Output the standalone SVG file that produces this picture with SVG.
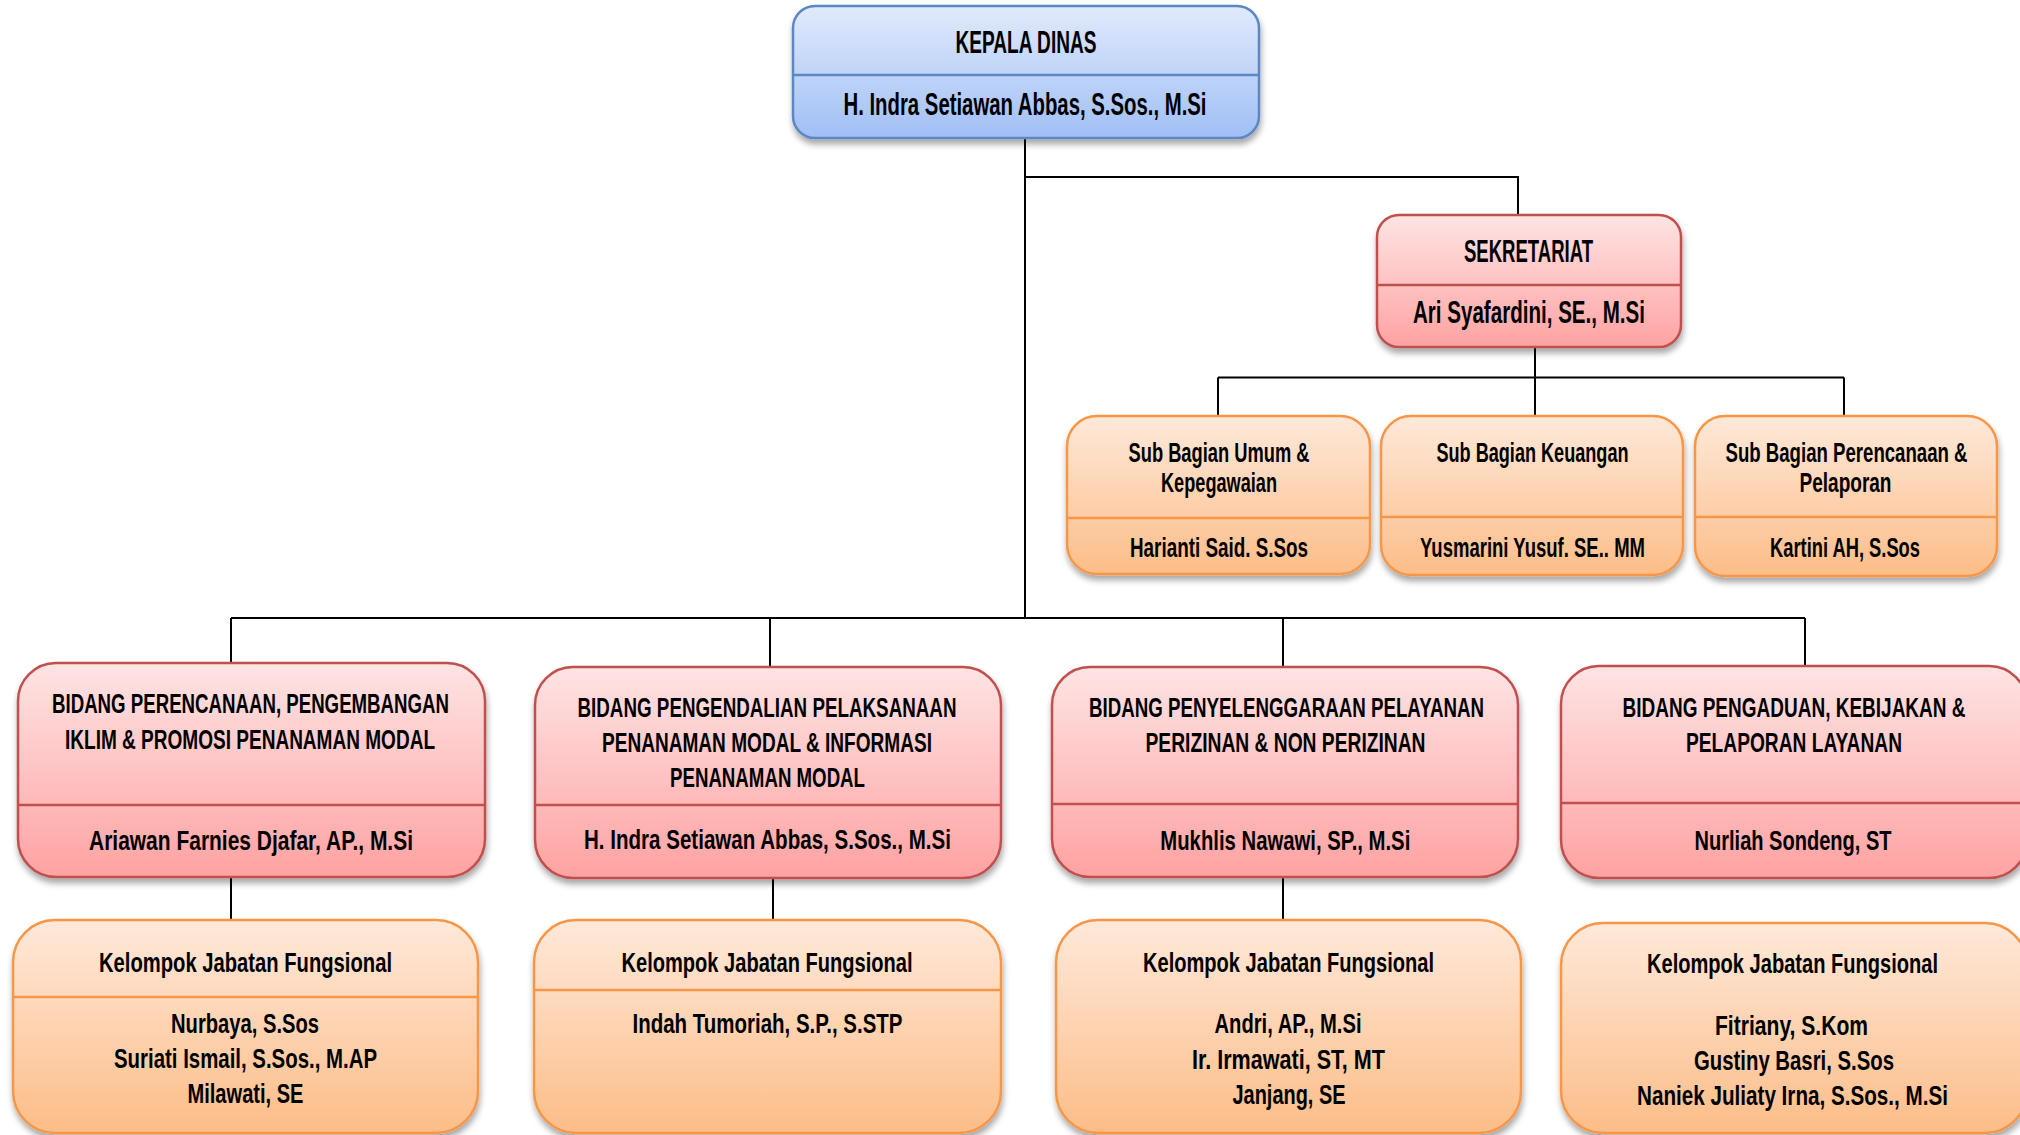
<svg xmlns="http://www.w3.org/2000/svg" width="2020" height="1135" viewBox="0 0 2020 1135">
<defs>
<linearGradient id="gBlue" x1="0" y1="0" x2="0" y2="1"><stop offset="0" stop-color="#e1eafc"/><stop offset="1" stop-color="#a0bff5"/></linearGradient>
<linearGradient id="gRed" x1="0" y1="0" x2="0" y2="1"><stop offset="0" stop-color="#fee4e4"/><stop offset="1" stop-color="#ffa2a2"/></linearGradient>
<linearGradient id="gOrange" x1="0" y1="0" x2="0" y2="1"><stop offset="0" stop-color="#fee9da"/><stop offset="1" stop-color="#fcbd88"/></linearGradient>
<filter id="sh" x="-10%" y="-10%" width="120%" height="130%"><feDropShadow dx="1" dy="5" stdDeviation="3" flood-color="#000" flood-opacity="0.35"/></filter>
<style>
.blue{fill:url(#gBlue);stroke:#5b87c2;stroke-width:2.5}
.red{fill:url(#gRed);stroke:#c0504d;stroke-width:2.5}
.org{fill:url(#gOrange);stroke:#f79646;stroke-width:2.5}
.dB{stroke:#5b87c2;stroke-width:2.5}
.dR{stroke:#c0504d;stroke-width:2.5}
.dO{stroke:#f79646;stroke-width:2.5}
text{font-family:"Liberation Sans",Arial,sans-serif;font-weight:bold;fill:#000;text-anchor:middle}
.t28{font-size:31px}
.t26{font-size:28px}
.t25{font-size:27px}
.conn{stroke:#000;stroke-width:2;fill:none}
</style>
</defs>
<rect width="2020" height="1135" fill="#fff"/>
<g id="connectors">
<path class="conn" d="M1025 138 V618 M1025 177 H1518 V215 M231 618 H1805 M231 618 V663 M770 618 V667 M1283 618 V667 M1805 618 V666 M1535 347 V377.5 M1218 377.5 H1844 M1218 377.5 V416 M1535 377.5 V416 M1844 377.5 V416 M231 877 V920 M773 878 V920 M1283 877 V920"/>
</g>
<g id="kepala-dinas">
<rect class="blue" x="793" y="6" width="466" height="132" rx="22" filter="url(#sh)"/>
<line class="dB" x1="794" y1="75" x2="1258" y2="75"/>
<text class="t28" x="1026" y="53" textLength="141" lengthAdjust="spacingAndGlyphs">KEPALA DINAS</text>
<text class="t28" x="1025" y="115" textLength="363" lengthAdjust="spacingAndGlyphs">H. Indra Setiawan Abbas, S.Sos., M.Si</text>
</g>
<g id="sekretariat">
<rect class="red" x="1377" y="215" width="304" height="132" rx="22" filter="url(#sh)"/>
<line class="dR" x1="1378" y1="285" x2="1680" y2="285"/>
<text class="t28" x="1528.5" y="262" textLength="129" lengthAdjust="spacingAndGlyphs">SEKRETARIAT</text>
<text class="t28" x="1529" y="323" textLength="232" lengthAdjust="spacingAndGlyphs">Ari Syafardini, SE., M.Si</text>
</g>
<g id="sub-umum">
<rect class="org" x="1067" y="416" width="303" height="158" rx="30" filter="url(#sh)"/>
<line class="dO" x1="1068" y1="518" x2="1369" y2="518"/>
<text class="t26" x="1219" y="462" textLength="181" lengthAdjust="spacingAndGlyphs">Sub Bagian Umum &amp;</text>
<text class="t26" x="1219" y="492" textLength="116" lengthAdjust="spacingAndGlyphs">Kepegawaian</text>
<text class="t26" x="1219" y="557" textLength="178" lengthAdjust="spacingAndGlyphs">Harianti Said. S.Sos</text>
</g>
<g id="sub-keuangan">
<rect class="org" x="1381" y="416" width="302" height="159" rx="30" filter="url(#sh)"/>
<line class="dO" x1="1382" y1="517" x2="1682" y2="517"/>
<text class="t26" x="1532.5" y="462" textLength="192" lengthAdjust="spacingAndGlyphs">Sub Bagian Keuangan</text>
<text class="t26" x="1532.5" y="557" textLength="225" lengthAdjust="spacingAndGlyphs">Yusmarini Yusuf. SE.. MM</text>
</g>
<g id="sub-perencanaan">
<rect class="org" x="1695" y="416" width="302" height="160" rx="30" filter="url(#sh)"/>
<line class="dO" x1="1696" y1="517" x2="1996" y2="517"/>
<text class="t26" x="1846.5" y="462" textLength="242" lengthAdjust="spacingAndGlyphs">Sub Bagian Perencanaan &amp;</text>
<text class="t26" x="1845.5" y="492" textLength="92" lengthAdjust="spacingAndGlyphs">Pelaporan</text>
<text class="t26" x="1845" y="557" textLength="150" lengthAdjust="spacingAndGlyphs">Kartini AH, S.Sos</text>
</g>
<g id="bidang-perencanaan">
<rect class="red" x="18" y="663" width="467" height="214" rx="38" filter="url(#sh)"/>
<line class="dR" x1="19" y1="805" x2="484" y2="805"/>
<text class="t25" x="250.5" y="713" textLength="397" lengthAdjust="spacingAndGlyphs">BIDANG PERENCANAAN, PENGEMBANGAN</text>
<text class="t25" x="250" y="749" textLength="370" lengthAdjust="spacingAndGlyphs">IKLIM &amp; PROMOSI PENANAMAN MODAL</text>
<text class="t25" x="251" y="850" textLength="324" lengthAdjust="spacingAndGlyphs">Ariawan Farnies Djafar, AP., M.Si</text>
</g>
<g id="bidang-pengendalian">
<rect class="red" x="535" y="667" width="466" height="211" rx="38" filter="url(#sh)"/>
<line class="dR" x1="536" y1="805" x2="1000" y2="805"/>
<text class="t25" x="767" y="717" textLength="379" lengthAdjust="spacingAndGlyphs">BIDANG PENGENDALIAN PELAKSANAAN</text>
<text class="t25" x="767" y="752" textLength="330" lengthAdjust="spacingAndGlyphs">PENANAMAN MODAL &amp; INFORMASI</text>
<text class="t25" x="767.5" y="787" textLength="195" lengthAdjust="spacingAndGlyphs">PENANAMAN MODAL</text>
<text class="t25" x="767.5" y="849" textLength="367" lengthAdjust="spacingAndGlyphs">H. Indra Setiawan Abbas, S.Sos., M.Si</text>
</g>
<g id="bidang-penyelenggaraan">
<rect class="red" x="1052" y="667" width="466" height="210" rx="38" filter="url(#sh)"/>
<line class="dR" x1="1053" y1="804" x2="1517" y2="804"/>
<text class="t25" x="1286.5" y="717" textLength="395" lengthAdjust="spacingAndGlyphs">BIDANG PENYELENGGARAAN PELAYANAN</text>
<text class="t25" x="1285.5" y="752" textLength="280" lengthAdjust="spacingAndGlyphs">PERIZINAN &amp; NON PERIZINAN</text>
<text class="t25" x="1285.3" y="850" textLength="250" lengthAdjust="spacingAndGlyphs">Mukhlis Nawawi, SP., M.Si</text>
</g>
<g id="bidang-pengaduan">
<rect class="red" x="1561" y="666" width="466" height="212" rx="38" filter="url(#sh)"/>
<line class="dR" x1="1562" y1="803" x2="2026" y2="803"/>
<text class="t25" x="1794" y="717" textLength="343" lengthAdjust="spacingAndGlyphs">BIDANG PENGADUAN, KEBIJAKAN &amp;</text>
<text class="t25" x="1794" y="752" textLength="216" lengthAdjust="spacingAndGlyphs">PELAPORAN LAYANAN</text>
<text class="t25" x="1793" y="850" textLength="197" lengthAdjust="spacingAndGlyphs">Nurliah Sondeng, ST</text>
</g>
<g id="kelompok-1">
<rect class="org" x="13" y="920" width="465" height="213" rx="42" filter="url(#sh)"/>
<line class="dO" x1="14" y1="997" x2="477" y2="997"/>
<text class="t25" x="245.5" y="972" textLength="293" lengthAdjust="spacingAndGlyphs">Kelompok Jabatan Fungsional</text>
<text class="t25" x="245" y="1033" textLength="148" lengthAdjust="spacingAndGlyphs">Nurbaya, S.Sos</text>
<text class="t25" x="245.5" y="1068" textLength="263" lengthAdjust="spacingAndGlyphs">Suriati Ismail, S.Sos., M.AP</text>
<text class="t25" x="245.5" y="1103" textLength="116" lengthAdjust="spacingAndGlyphs">Milawati, SE</text>
</g>
<g id="kelompok-2">
<rect class="org" x="534" y="920" width="467" height="213" rx="42" filter="url(#sh)"/>
<line class="dO" x1="535" y1="990" x2="1000" y2="990"/>
<text class="t25" x="767" y="972" textLength="291" lengthAdjust="spacingAndGlyphs">Kelompok Jabatan Fungsional</text>
<text class="t25" x="767.5" y="1033" textLength="270" lengthAdjust="spacingAndGlyphs">Indah Tumoriah, S.P., S.STP</text>
</g>
<g id="kelompok-3">
<rect class="org" x="1056" y="920" width="465" height="213" rx="42" filter="url(#sh)"/>
<text class="t25" x="1288.5" y="972" textLength="291" lengthAdjust="spacingAndGlyphs">Kelompok Jabatan Fungsional</text>
<text class="t25" x="1288" y="1033" textLength="147" lengthAdjust="spacingAndGlyphs">Andri, AP., M.Si</text>
<text class="t25" x="1288.5" y="1069" textLength="193" lengthAdjust="spacingAndGlyphs">Ir. Irmawati, ST, MT</text>
<text class="t25" x="1289" y="1104" textLength="113" lengthAdjust="spacingAndGlyphs">Janjang, SE</text>
</g>
<g id="kelompok-4">
<rect class="org" x="1561" y="923" width="466" height="210" rx="42" filter="url(#sh)"/>
<text class="t25" x="1792.5" y="973" textLength="291" lengthAdjust="spacingAndGlyphs">Kelompok Jabatan Fungsional</text>
<text class="t25" x="1791.5" y="1035" textLength="153" lengthAdjust="spacingAndGlyphs">Fitriany, S.Kom</text>
<text class="t25" x="1794" y="1070" textLength="200" lengthAdjust="spacingAndGlyphs">Gustiny Basri, S.Sos</text>
<text class="t25" x="1792.5" y="1105" textLength="311" lengthAdjust="spacingAndGlyphs">Naniek Juliaty Irna, S.Sos., M.Si</text>
</g>
</svg>
